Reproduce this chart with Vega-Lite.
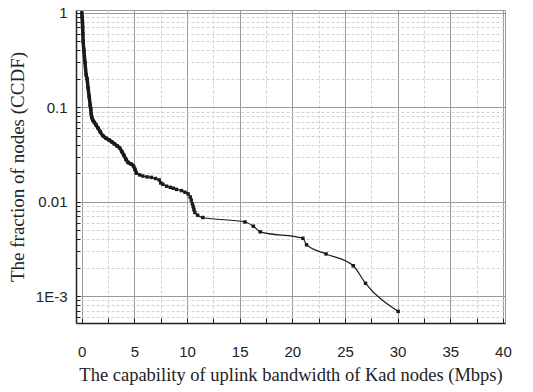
{
  "$schema": "https://vega.github.io/schema/vega-lite/v6.json",
  "width": 429,
  "height": 313,
  "autosize": {"type": "none"},
  "padding": {"left": 76, "top": 10, "right": 28, "bottom": 69},
  "background": "white",
  "config": {"view": {"stroke": "#9a9a9a", "strokeWidth": 1}},
  "data": {
    "values": [
      {"x": 0, "y": 1.0},
      {"x": 0.03, "y": 0.9},
      {"x": 0.06, "y": 0.8},
      {"x": 0.08, "y": 0.7},
      {"x": 0.1, "y": 0.6},
      {"x": 0.13, "y": 0.5},
      {"x": 0.2, "y": 0.4},
      {"x": 0.3, "y": 0.3},
      {"x": 0.42, "y": 0.22},
      {"x": 0.5, "y": 0.2},
      {"x": 0.6, "y": 0.16},
      {"x": 0.7, "y": 0.13},
      {"x": 0.8, "y": 0.105},
      {"x": 0.85, "y": 0.095},
      {"x": 0.9, "y": 0.085},
      {"x": 0.95, "y": 0.078},
      {"x": 1.05, "y": 0.073},
      {"x": 1.2, "y": 0.069},
      {"x": 1.35, "y": 0.065},
      {"x": 1.55, "y": 0.06},
      {"x": 1.75, "y": 0.055},
      {"x": 2.0, "y": 0.05},
      {"x": 2.3, "y": 0.047},
      {"x": 2.6, "y": 0.045},
      {"x": 2.85, "y": 0.043},
      {"x": 3.1, "y": 0.041},
      {"x": 3.35, "y": 0.039},
      {"x": 3.6, "y": 0.037},
      {"x": 3.8, "y": 0.034},
      {"x": 4.0, "y": 0.031},
      {"x": 4.2, "y": 0.028},
      {"x": 4.4, "y": 0.026},
      {"x": 4.7, "y": 0.025},
      {"x": 4.9, "y": 0.024},
      {"x": 5.05, "y": 0.022},
      {"x": 5.2, "y": 0.02},
      {"x": 5.5, "y": 0.0192},
      {"x": 5.8, "y": 0.0187},
      {"x": 6.2, "y": 0.0183},
      {"x": 6.6, "y": 0.0181},
      {"x": 7.0, "y": 0.0176},
      {"x": 7.35, "y": 0.017},
      {"x": 7.5, "y": 0.0158},
      {"x": 7.7, "y": 0.0153},
      {"x": 8.05, "y": 0.0146},
      {"x": 8.4, "y": 0.0142},
      {"x": 8.68, "y": 0.0139},
      {"x": 9.0, "y": 0.0135},
      {"x": 9.47, "y": 0.0131},
      {"x": 9.8, "y": 0.0126},
      {"x": 10.1, "y": 0.0121},
      {"x": 10.3, "y": 0.0112},
      {"x": 10.4, "y": 0.0104},
      {"x": 10.5, "y": 0.0095},
      {"x": 10.58, "y": 0.0089},
      {"x": 10.65, "y": 0.0083},
      {"x": 10.74, "y": 0.0077},
      {"x": 11.0, "y": 0.0072},
      {"x": 11.5, "y": 0.0068},
      {"x": 15.5, "y": 0.0061},
      {"x": 16.3, "y": 0.0055},
      {"x": 16.95, "y": 0.0048},
      {"x": 21.0, "y": 0.0041},
      {"x": 21.35, "y": 0.0035},
      {"x": 23.2, "y": 0.0028},
      {"x": 25.78, "y": 0.0021},
      {"x": 26.95, "y": 0.00137},
      {"x": 30.05, "y": 0.00069}
    ]
  },
  "encoding": {
    "x": {
      "field": "x",
      "type": "quantitative",
      "scale": {"domain": [-0.55, 40.2], "nice": false, "zero": false},
      "axis": {
        "title": "The capability of uplink bandwidth of Kad nodes (Mbps)",
        "titleFont": "Liberation Serif",
        "titleFontSize": 18.5,
        "titleFontWeight": "normal",
        "titleColor": "#222",
        "titlePadding": 6,
        "values": [0, 2.5, 5, 7.5, 10, 12.5, 15, 17.5, 20, 22.5, 25, 27.5, 30, 32.5, 35, 37.5, 40],
        "labelExpr": "datum.value % 5 === 0 ? format(datum.value, 'd') : ''",
        "labelFont": "Liberation Sans",
        "labelFontSize": 15,
        "labelColor": "#222",
        "labelFlush": false,
        "labelOverlap": false,
        "labelPadding": 26,
        "domainColor": "#222",
        "domainWidth": 1.5,
        "tickColor": "#222",
        "tickSize": -5,
        "tickWidth": 1,
        "grid": true,
        "gridColor": {"condition": {"test": "datum.value % 5 === 0", "value": "#9a9a9a"}, "value": "#d2d2d2"},
        "gridDash": {"condition": {"test": "datum.value % 5 === 0", "value": []}, "value": [3, 2]},
        "gridWidth": 1
      }
    },
    "y": {
      "field": "y",
      "type": "quantitative",
      "scale": {"type": "log", "domain": [0.00052, 1.07], "nice": false},
      "axis": {
        "title": "The fraction of nodes (CCDF)",
        "titleFont": "Liberation Serif",
        "titleFontSize": 19,
        "titleFontWeight": "normal",
        "titleColor": "#222",
        "titlePadding": 8,
        "values": [0.0006, 0.0007, 0.0008, 0.0009, 0.001, 0.002, 0.003, 0.004, 0.005, 0.006, 0.007, 0.008, 0.009, 0.01, 0.02, 0.03, 0.04, 0.05, 0.06, 0.07, 0.08, 0.09, 0.1, 0.2, 0.3, 0.4, 0.5, 0.6, 0.7, 0.8, 0.9, 1],
        "labelExpr": "datum.value > 0.99 ? '1' : abs(datum.value - 0.1) < 1e-9 ? '0.1' : abs(datum.value - 0.01) < 1e-10 ? '0.01' : abs(datum.value - 0.001) < 1e-11 ? '1E-3' : ''",
        "labelFont": "Liberation Sans",
        "labelFontSize": 15,
        "labelColor": "#222",
        "labelFlush": false,
        "labelOverlap": false,
        "labelPadding": 13,
        "domainColor": "#222",
        "domainWidth": 1.5,
        "tickColor": "#222",
        "tickSize": -4,
        "tickWidth": 1,
        "grid": true,
        "gridColor": {"condition": {"test": "abs(log(datum.value)/LN10 - round(log(datum.value)/LN10)) < 1e-6", "value": "#9a9a9a"}, "value": "#d2d2d2"},
        "gridDash": {"condition": {"test": "abs(log(datum.value)/LN10 - round(log(datum.value)/LN10)) < 1e-6", "value": []}, "value": [3, 2]},
        "gridWidth": 1
      }
    }
  },
  "layer": [
    {"mark": {"type": "line", "color": "#1a1a1a", "strokeWidth": 1.2, "interpolate": "monotone"}},
    {"transform": [{"filter": "datum.x <= 5.2"}], "mark": {"type": "line", "color": "#1a1a1a", "strokeWidth": 3.5, "interpolate": "monotone"}},
    {"mark": {"type": "square", "color": "#1a1a1a", "size": 12, "opacity": 1}}
  ]
}
